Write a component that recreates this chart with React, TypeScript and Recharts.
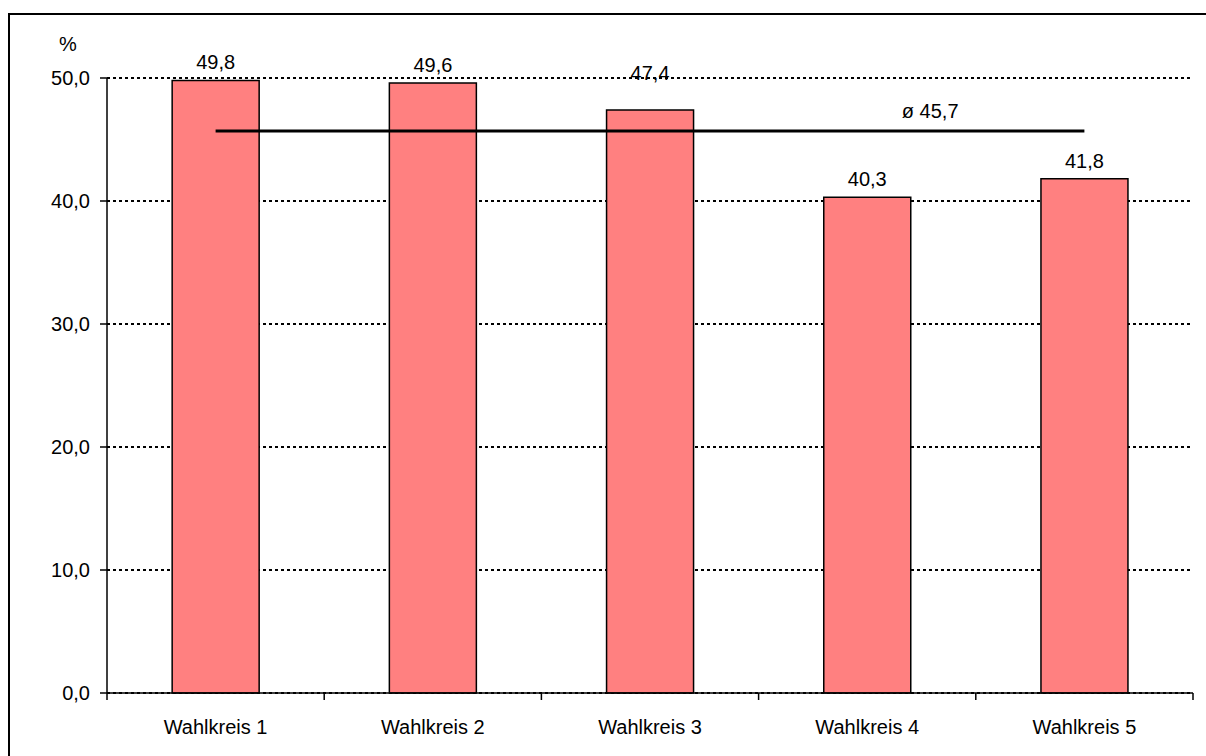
import React from 'react';
import { ComposedChart, Bar, Line, XAxis, YAxis, CartesianGrid, LabelList } from 'recharts';

const categories = ['Wahlkreis 1', 'Wahlkreis 2', 'Wahlkreis 3', 'Wahlkreis 4', 'Wahlkreis 5'];
const shares = [49.8, 49.6, 47.4, 40.3, 41.8];
const average = 45.7;
const yTicks = [0, 10, 20, 30, 40, 50];

const data = categories.map((name, i) => ({ name, value: shares[i], avg: average }));

const FONT = '"Liberation Sans", Arial, sans-serif';
const FS = 20;
const fmt = (v: number) => v.toFixed(1).replace('.', ',');

const XTick = (props: any) => {
  const { x, y, payload, index } = props;
  const half = payload && payload.offset ? payload.offset : 0;
  return (
    <g>
      <line x1={x - half} x2={x - half} y1={y} y2={y + 7} stroke="#000" strokeWidth={1.5} />
      {index === categories.length - 1 && (
        <line x1={x + half} x2={x + half} y1={y} y2={y + 7} stroke="#000" strokeWidth={1.5} />
      )}
      <text x={x} y={y + 41} textAnchor="middle" fontSize={FS} fontFamily={FONT} fill="#000">
        {payload.value}
      </text>
    </g>
  );
};

const BarLabel = (props: any) => {
  const { x, y, width, value, index } = props;
  const lift = index === 2 ? 30 : 11;
  return (
    <text x={x + width / 2} y={y - lift} textAnchor="middle" fontSize={FS} fontFamily={FONT} fill="#000">
      {fmt(value)}
    </text>
  );
};

const AvgLabel = (props: any) => {
  const { x, y, index, value } = props;
  if (index !== 3) return null;
  return (
    <text x={x + 63} y={y - 13} textAnchor="middle" fontSize={FS} fontFamily={FONT} fill="#000">
      {'ø ' + fmt(value)}
    </text>
  );
};

export default function App() {
  return (
    <div style={{ position: 'fixed', left: 0, top: 0, width: 1206, height: 756, overflow: 'hidden', background: '#fff' }}>
      <div style={{ position: 'absolute', left: 8, top: 13, width: 1300, height: 900, border: '2.5px solid #000', boxSizing: 'border-box' }} />
      <div style={{ position: 'absolute', left: 59, top: 32, fontSize: FS, fontFamily: FONT, color: '#000', lineHeight: '24px' }}>%</div>
      <div style={{ position: 'absolute', left: 8, top: 8 }}>
        <ComposedChart width={1198} height={748} data={data} margin={{ top: 70, right: 13, bottom: 18, left: 0 }} barCategoryGap="30%">
          <CartesianGrid vertical={false} stroke="#000" strokeWidth={2} strokeDasharray="3 3" />
          <XAxis
            dataKey="name"
            type="category"
            height={45}
            tickLine={false}
            tickSize={0}
            tickMargin={0}
            axisLine={{ stroke: '#000', strokeWidth: 1.5 }}
            tick={<XTick />}
            interval={0}
          />
          <YAxis
            width={99}
            domain={[0, 50]}
            ticks={yTicks}
            tickFormatter={fmt}
            tickSize={7}
            tickMargin={10}
            axisLine={{ stroke: '#000', strokeWidth: 1.5 }}
            tickLine={{ stroke: '#000', strokeWidth: 1.5 }}
            tick={{ fill: '#000', fontSize: FS, fontFamily: FONT }}
          />
          <Bar dataKey="value" fill="#FF8080" stroke="#000" strokeWidth={1.5} isAnimationActive={false}>
            <LabelList dataKey="value" content={<BarLabel />} />
          </Bar>
          <Line dataKey="avg" stroke="#000" strokeWidth={3} dot={false} activeDot={false} isAnimationActive={false}>
            <LabelList dataKey="avg" content={<AvgLabel />} />
          </Line>
        </ComposedChart>
      </div>
    </div>
  );
}
